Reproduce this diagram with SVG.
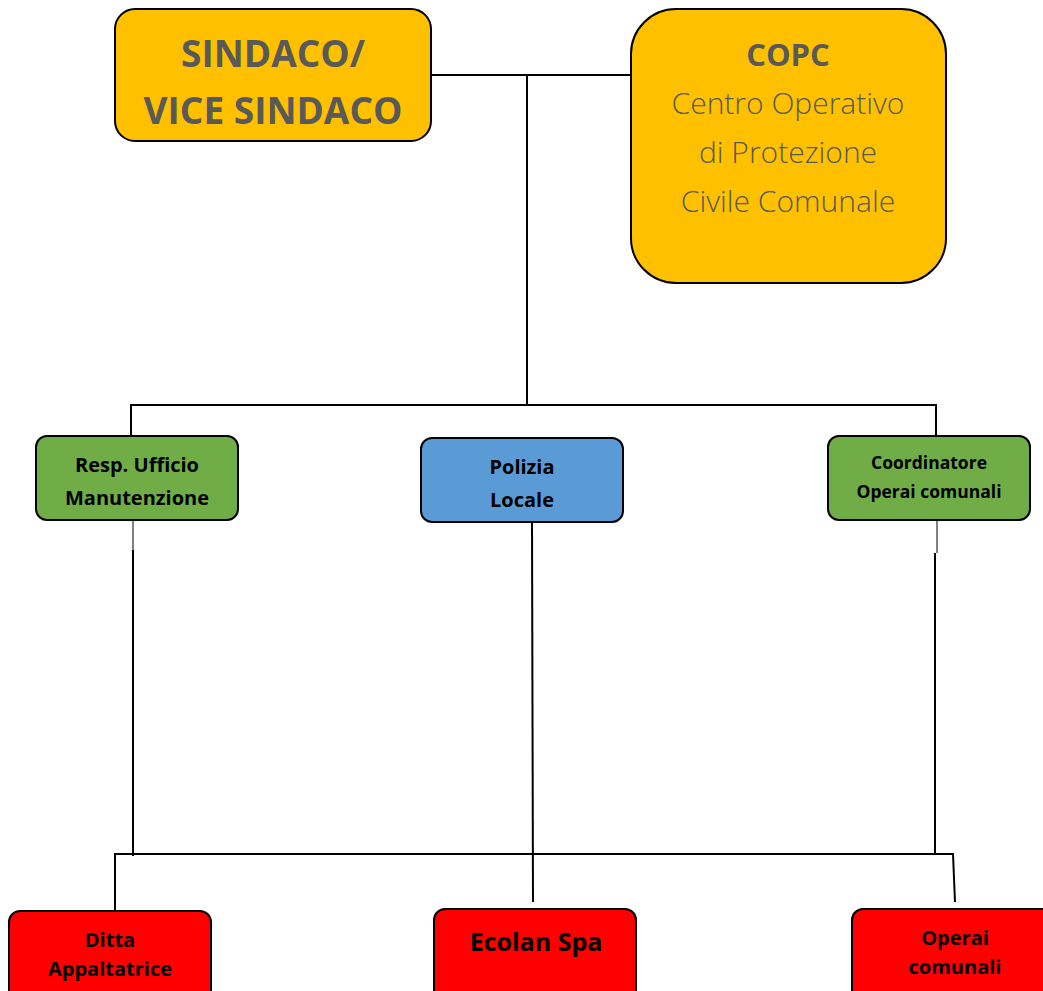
<svg xmlns="http://www.w3.org/2000/svg" width="1043" height="991" viewBox="0 0 1043 991">
<style>
.box{stroke:#000;stroke-width:2}
.y{fill:#FFC000}
.g{fill:#70AD47}
.b{fill:#5B9BD5}
.r{fill:#FF0000}
text{font-family:"Open Sans","Noto Sans","Liberation Sans",sans-serif;text-anchor:middle}
.big{font-weight:700;font-size:37px;fill:#595959}
.copc{font-weight:700;font-size:31px;fill:#595959}
.light{font-weight:300;font-size:30px;fill:#595959}
.lbl{font-weight:700;font-size:20px;fill:#000}
.lbs{font-weight:700;font-size:17.5px;fill:#000}
.conn line,.conn polyline{stroke:#000;stroke-width:2;fill:none}
.conn .grey{stroke:#808080}
</style>
<rect width="1043" height="991" fill="#fff"/>
<g class="conn">
<line x1="431" y1="75" x2="633" y2="75"/>
<line x1="527" y1="75" x2="527" y2="405"/>
<polyline points="131,437 131,405 936,405 936,437"/>
<line class="grey" x1="133" y1="520" x2="133" y2="550"/>
<line x1="133" y1="550" x2="133" y2="856"/>
<line x1="532" y1="522" x2="533" y2="902"/>
<line class="grey" x1="937" y1="520" x2="937" y2="553"/>
<line x1="935" y1="553" x2="935" y2="854"/>
<polyline points="115,910 115,854 953,854 955,902"/>
</g>
<g id="sindaco">
<rect class="box y" x="115" y="9" width="316" height="132" rx="20"/>
<text class="big" x="273" y="67">SINDACO/</text>
<text class="big" x="273" y="124">VICE SINDACO</text>
</g>
<g id="copc">
<rect class="box y" x="631" y="9" width="315" height="274" rx="45"/>
<text class="copc" x="788" y="66">COPC</text>
<text class="light" x="788" y="114">Centro Operativo</text>
<text class="light" x="788" y="163">di Protezione</text>
<text class="light" x="788" y="212">Civile Comunale</text>
</g>
<g id="resp">
<rect class="box g" x="36" y="436" width="202" height="84" rx="11"/>
<text class="lbl" x="137" y="472">Resp. Ufficio</text>
<text class="lbl" x="137" y="505">Manutenzione</text>
</g>
<g id="polizia">
<rect class="box b" x="421" y="438" width="202" height="84" rx="11"/>
<text class="lbl" x="522" y="474">Polizia</text>
<text class="lbl" x="522" y="507">Locale</text>
</g>
<g id="coordinatore">
<rect class="box g" x="828" y="436" width="202" height="84" rx="11"/>
<text class="lbs" x="929" y="469">Coordinatore</text>
<text class="lbs" x="929" y="498">Operai comunali</text>
</g>
<g id="ditta">
<rect class="box r" x="9" y="911" width="202" height="90" rx="11"/>
<text class="lbl" x="110" y="947">Ditta</text>
<text class="lbl" x="110" y="976">Appaltatrice</text>
</g>
<g id="ecolan">
<rect class="box r" x="434" y="909" width="202" height="92" rx="11"/>
<text class="lbl" x="536" y="951" style="font-size:25px">Ecolan Spa</text>
</g>
<g id="operai">
<rect class="box r" x="852" y="909" width="202" height="92" rx="11"/>
<text class="lbl" x="955" y="945">Operai</text>
<text class="lbl" x="955" y="974">comunali</text>
</g>
</svg>
